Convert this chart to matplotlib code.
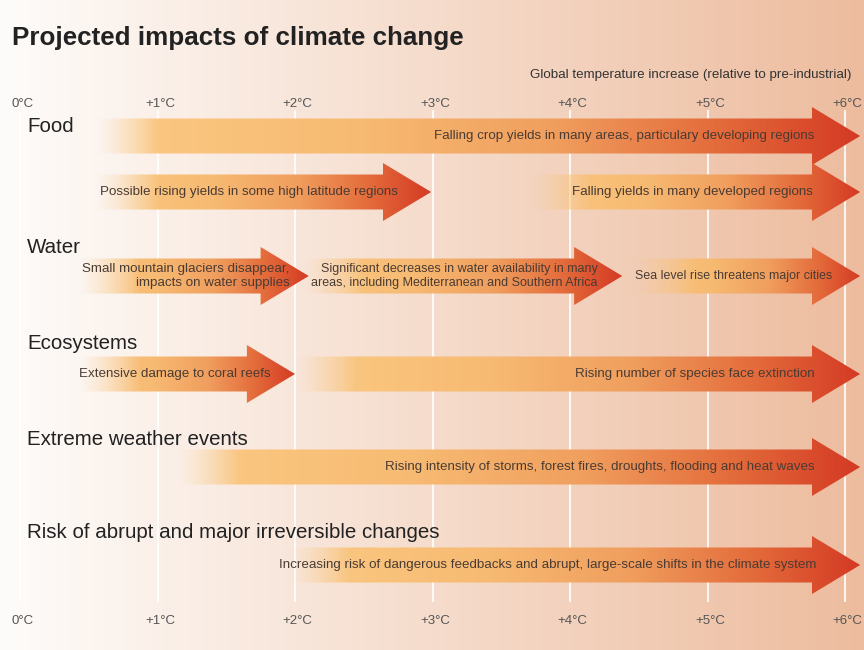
import numpy as np
import matplotlib
matplotlib.use("Agg")
import matplotlib.pyplot as plt
from matplotlib.patches import Polygon
from matplotlib.colors import LinearSegmentedColormap

# ---------------- data ----------------
title = "Projected impacts of climate change"
axis_title = "Global temperature increase (relative to pre-industrial)"
temps = [0, 1, 2, 3, 4, 5, 6]
tick_labels = ["0°C", "+1°C", "+2°C", "+3°C", "+4°C", "+5°C", "+6°C"]

categories = ["Food", "Water", "Ecosystems", "Extreme weather events",
              "Risk of abrupt and major irreversible changes"]

impact_labels = [
    "Falling crop yields in many areas, particulary developing regions",
    "Possible rising yields in some high latitude regions",
    "Falling yields in many developed regions",
    "Small mountain glaciers disappear,\nimpacts on water supplies",
    "Significant decreases in water availability in many\nareas, including Mediterranean and Southern Africa",
    "Sea level rise threatens major cities",
    "Extensive damage to coral reefs",
    "Rising number of species face extinction",
    "Rising intensity of storms, forest fires, droughts, flooding and heat waves",
    "Increasing risk of dangerous feedbacks and abrupt, large-scale shifts in the climate system",
]
impact_start = [0.55, 0.55, 3.70, 0.42, 2.05, 4.45, 0.42, 2.00, 1.15, 1.95]   # °C
impact_end   = [6.11, 2.99, 6.11, 2.10, 4.38, 6.11, 2.00, 6.11, 6.11, 6.11]   # °C (arrow tip)

# ---------------- layout / style ----------------
W, H = 864, 650
PX = 137.5          # pixels per degree
X0 = 20.0           # pixel position of 0°C
xmin, xmax = -X0 / PX, (W - X0) / PX

row_y = [136, 192, 192, 276, 276, 276, 374, 374, 467, 565]      # arrow centre rows (px)
label_x = [5.78, 2.75, 5.77, 1.96, 4.20, 5.91, 1.82, 5.78, 5.78, 5.79]
label_size = [9.6, 9.6, 9.6, 9.6, 9.0, 8.9, 9.6, 9.6, 9.6, 9.6]
cat_baseline = [132, 253, 349, 445, 538]

body_half = 17.5
head_half = 29.0
head_len = 0.35

fig = plt.figure(figsize=(W / 100, H / 100), dpi=100)
ax = fig.add_axes([0, 0, 1, 1])
ax.set_xlim(xmin, xmax)
ax.set_ylim(H, 0)
ax.axis("off")

# background gradient
left = np.array([254, 252, 250]) / 255
right = np.array([237, 188, 158]) / 255
f = np.linspace(0, 1, 600)
bg = (left[None, :] * (1 - f[:, None]) + right[None, :] * f[:, None])[None, :, :]
ax.imshow(bg, extent=[xmin, xmax, H, 0], aspect="auto", zorder=0, interpolation="bilinear")

# degree grid lines
for t in temps:
    ax.plot([t, t], [110, 602], color="white", lw=1.5, alpha=0.85, zorder=1,
            solid_capstyle="butt")

# arrow colour ramp
cmap = LinearSegmentedColormap.from_list(
    "arrow", [(0.0, "#fbca84"), (0.35, "#f7ba72"), (0.6, "#f09e5e"),
              (0.82, "#e36a3a"), (1.0, "#d43a24")])

for s, e, yc, lab, lx, fs in zip(impact_start, impact_end, row_y, impact_labels,
                                 label_x, label_size):
    base = e - head_len
    verts = [(s, yc - body_half), (base, yc - body_half), (base, yc - head_half),
             (e, yc), (base, yc + head_half), (base, yc + body_half), (s, yc + body_half)]
    poly = Polygon(verts, closed=True, facecolor="none", edgecolor="none", zorder=2)
    ax.add_patch(poly)
    n = 400
    t = np.linspace(0, 1, n)
    rgba = cmap(t)
    fade_len = min(0.45 / (e - s), 0.5)
    rgba[:, 3] = np.clip(t / fade_len, 0, 1) ** 1.3
    img = ax.imshow(rgba[None, :, :], extent=[s, e, yc + head_half, yc - head_half],
                    aspect="auto", zorder=2, interpolation="bilinear")
    img.set_clip_path(poly)
    ax.text(lx, yc, lab, ha="right", va="center", fontsize=fs, color="#4a3b33",
            family="Liberation Sans", linespacing=1.3, multialignment="right", zorder=3)

# category labels
for c, yb in zip(categories, cat_baseline):
    ax.text((27 - X0) / PX, yb, c, ha="left", va="baseline", fontsize=14.8,
            color="#222222", family="Liberation Sans", zorder=3)

# tick labels top & bottom
for t, lab in zip(temps, tick_labels):
    for yb in (107, 624):
        ax.text(t + 0.02, yb, lab, ha="center", va="baseline", fontsize=9.5,
                color="#555555", family="Liberation Sans", zorder=3)

ax.text((852 - X0) / PX, 78, axis_title, ha="right", va="baseline", fontsize=9.6,
        color="#333333", family="Liberation Sans", zorder=3)

ax.text((12 - X0) / PX, 45, title, ha="left", va="baseline", fontsize=18.7,
        fontweight="bold", color="#222222", family="Liberation Sans", zorder=3)

fig.savefig("out.png", dpi=100)
